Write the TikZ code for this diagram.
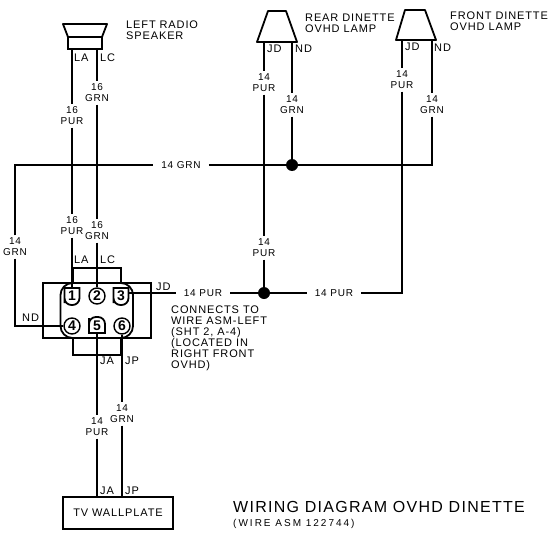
\documentclass[tikz,border=0pt]{standalone}
\usepackage{fontspec}
\newfontfamily\cadfont[LetterSpace=8]{Liberation Sans}
\usepackage{tikz}
\tikzset{
  wire/.style={line width=2.2pt},
  thinwire/.style={line width=1.8pt},
  housing/.style={line width=1.8pt},
  gauge/.style={font=\cadfont\fontsize{10}{11}\selectfont, align=center, inner xsep=8pt, inner ysep=2.5pt},
  tag/.style={font=\cadfont\fontsize{11}{11}\selectfont, anchor=west, inner sep=0pt},
  note/.style={font=\cadfont\fontsize{11}{11}\selectfont, anchor=north west, align=left, inner sep=0pt},
  cavity/.style={circle, minimum size=16pt, inner sep=0pt, font=\cadfont\bfseries\fontsize{14}{14}\selectfont},
  splice/.style={circle, fill=black, minimum size=12pt, inner sep=0pt}
}

\begin{document}
\begin{tikzpicture}[x=1pt,y=-1pt]
	\useasboundingbox (0,0) rectangle (548,532);
	% speaker and lamps
	\draw[housing, line join=round] (63,24) -- (107,24) -- (102,37) -- (68,37) -- cycle;
	\draw[housing] (68,37) -- (68,49) -- (102,49) -- (102,37);
	\draw[housing, line join=round] (268,11) -- (286,11) -- (297,42) -- (257,42) -- cycle;
	\draw[housing, line join=round] (405,10) -- (425,10) -- (436,40) -- (396,40) -- cycle;
	\coordinate (spkLA) at (72,49);
	\coordinate (spkLC) at (97,49);
	\coordinate (rearJD) at (264,42);
	\coordinate (rearND) at (292,42);
	\coordinate (frontJD) at (402,40);
	\coordinate (frontND) at (432,40);
	\node[note] (spkname) at (126,21) {LEFT RADIO\\SPEAKER};
	\node[note] (rearname) at (305,14) {REAR DINETTE\\OVHD LAMP};
	\node[note] (frontname) at (450,12) {FRONT DINETTE\\OVHD LAMP};
	% connector
	\draw[housing] (43,283) rectangle (151,338);
	\draw[housing, rounded corners=12] (60.5,283) rectangle (133,338);
	\draw[housing] (73,283) -- (73,268) -- (121,268) -- (121,283);
	\draw[housing] (73,338) -- (73,355) -- (121,355) -- (121,338);
	\node[cavity] (pinA) at (72,296) {1};
	\node[cavity, draw, line width=1.4pt] (pinB) at (97,296) {2};
	\node[cavity] (pinC) at (121,296) {3};
	\node[cavity, draw, line width=1.4pt] (pinD) at (72,326) {4};
	\node[cavity] (pinE) at (97,326) {5};
	\node[cavity, draw, line width=1.4pt] (pinF) at (122,326) {6};
	\draw[housing] (64.5,296) [sharp corners] -- (64.5,288) -- (79.5,288) -- (79.5,296) [rounded corners=7] -- (79.5,305) -- (64.5,305) -- cycle;
	\draw[housing] (113.5,296) [sharp corners] -- (113.5,288) -- (128.5,288) -- (128.5,296) [rounded corners=7] -- (128.5,305) -- (113.5,305) -- cycle;
	\draw[housing] (89,325) [sharp corners] -- (89,333) -- (105,333) -- (105,325) [rounded corners=7] -- (105,317) -- (89,317) -- cycle;
	% box
	\node[draw, line width=2pt, minimum width=110pt, minimum height=32pt, inner sep=0pt,
		font=\cadfont\fontsize{11}{11}\selectfont] (plate) at (118,513) {TV WALLPLATE};
	\coordinate (plateJA) at (97,497);
	\coordinate (plateJP) at (122,497);
	% wire labels
	\node[gauge] (pupper) at (72,116) {16\\PUR};
	\node[gauge] (plower) at (72,226) {16\\PUR};
	\node[gauge] (gupper) at (97,93) {16\\GRN};
	\node[gauge] (glower) at (97,231) {16\\GRN};
	\node[gauge] (gleft) at (15,247) {14\\GRN};
	\node[gauge] (gmain) at (181,165) {14 GRN};
	\node[gauge] (prear) at (264,83) {14\\PUR};
	\node[gauge] (grear) at (292,105) {14\\GRN};
	\node[gauge] (pmid) at (264,248) {14\\PUR};
	\node[gauge] (pfront) at (402,80) {14\\PUR};
	\node[gauge] (gfront) at (432,105) {14\\GRN};
	\node[gauge] (pjd) at (203,293) {14 PUR};
	\node[gauge] (pright) at (334,293) {14 PUR};
	\node[gauge] (pbot) at (97,427) {14\\PUR};
	\node[gauge] (gbot) at (122,414) {14\\GRN};
	\node[splice] (spliceG) at (292,165) {};
	\node[splice] (spliceP) at (264,293) {};
	% wires
	\draw[wire] (spkLA) -- (pupper);
	\draw[wire] (pupper) -- (plower);
	\draw[wire] (plower) -- (pinA.north);
	\draw[wire] (spkLC) -- (gupper);
	\draw[wire] (gupper) -- (glower);
	\draw[wire] (glower) -- (pinB);
	\draw[wire] (rearJD) -- (prear);
	\draw[wire] (prear) -- (pmid);
	\draw[wire] (pmid) -- (spliceP);
	\draw[wire] (rearND) -- (grear);
	\draw[wire] (grear) -- (spliceG);
	\draw[wire] (frontJD) -- (pfront);
	\draw[wire] (frontND) -- (gfront);
	\draw[wire] (pfront) |- (pright);
	\draw[wire] (gfront) |- (spliceG);
	\draw[wire] (gmain) -- (spliceG);
	\draw[wire] (gleft) |- (gmain);
	\draw[thinwire] (gleft) |- (pinD);
	\draw[thinwire] (pinC.east |- pjd) -- (pjd);
	\draw[wire] (pjd) -- (spliceP);
	\draw[wire] (spliceP) -- (pright);
	\draw[wire] (pinE.south) -- (pbot);
	\draw[wire] (pbot) -- (plateJA);
	\draw[wire] (pinF.south) -- (gbot);
	\draw[wire] (gbot) -- (plateJP);
	% pin tags
	\node[tag] (tLAa) at (74,58) {LA};
	\node[tag] (tLCa) at (100,58) {LC};
	\node[tag] (tLAb) at (74,260) {LA};
	\node[tag] (tLCb) at (100,260) {LC};
	\node[tag] (tJDc) at (156,287) {JD};
	\node[tag] (tNDc) at (22,318) {ND};
	\node[tag] (tJAc) at (100,361) {JA};
	\node[tag] (tJPc) at (125,361) {JP};
	\node[tag] (tJDr) at (267,49) {JD};
	\node[tag] (tNDr) at (295,49) {ND};
	\node[tag] (tJDf) at (405,47) {JD};
	\node[tag] (tNDf) at (434,48) {ND};
	\node[tag] (tJAb) at (100,491) {JA};
	\node[tag] (tJPb) at (125,491) {JP};
	\node[note] (connects) at (171,306) {CONNECTS TO\\WIRE ASM-LEFT\\(SHT 2, A-4)\\(LOCATED IN\\RIGHT FRONT\\OVHD)};
	% title
	\node[tag, font=\cadfont\fontsize{16}{16}\selectfont] (title) at (233,507) {WIRING DIAGRAM OVHD DINETTE};
	\node[tag, font=\cadfont\addfontfeature{LetterSpace=20}\fontsize{10}{10}\selectfont] (subtitle) at (233,524) {(WIRE ASM 122744)};
\end{tikzpicture}
\end{document}
